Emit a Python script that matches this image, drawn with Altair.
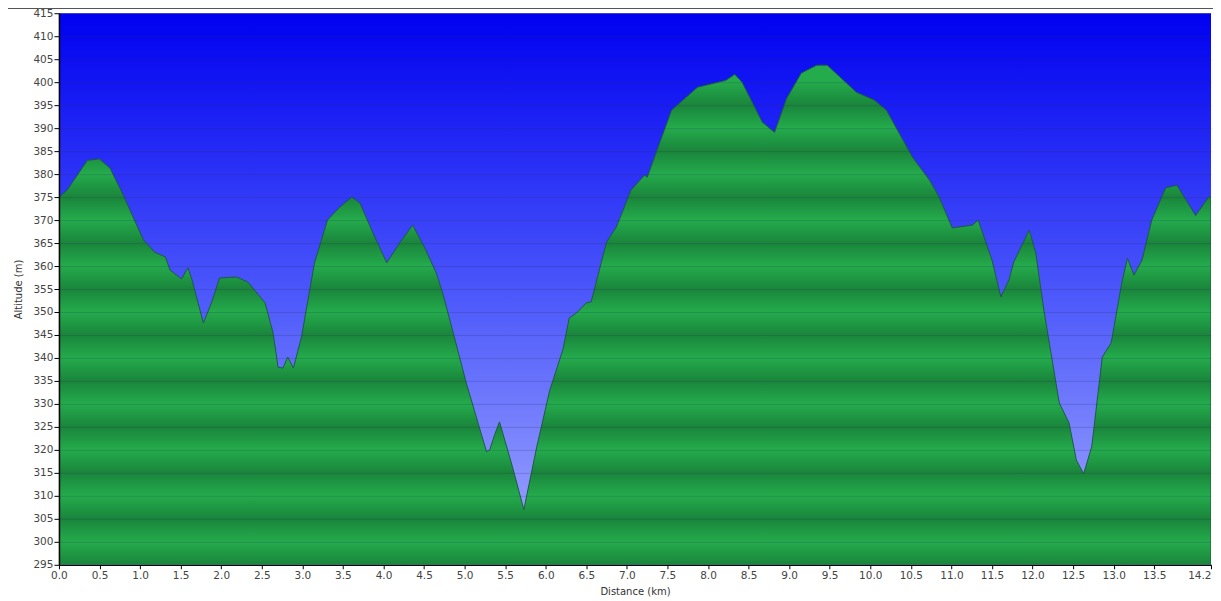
import altair as alt
import pandas as pd

dist_km = [0.0, 0.1, 0.35, 0.5, 0.63, 0.78, 1.04, 1.18, 1.31, 1.37, 1.51, 1.59, 1.64,
           1.78, 1.88, 1.98, 2.19, 2.33, 2.54, 2.64, 2.70, 2.76, 2.82, 2.89, 2.99, 3.15,
           3.31, 3.46, 3.61, 3.71, 3.87, 4.04, 4.20, 4.36, 4.51, 4.65, 4.73, 4.85, 5.02,
           5.27, 5.31, 5.37, 5.43, 5.59, 5.73, 5.89, 6.05, 6.21, 6.29, 6.38, 6.50, 6.56,
           6.63, 6.75, 6.87, 6.95, 7.05, 7.22, 7.25, 7.55, 7.87, 8.22, 8.33, 8.42, 8.67,
           8.82, 8.97, 9.15, 9.34, 9.47, 9.83, 10.05, 10.20, 10.52, 10.73, 10.85, 11.01,
           11.26, 11.33, 11.50, 11.61, 11.71, 11.77, 11.96, 12.04, 12.14, 12.33, 12.45,
           12.54, 12.63, 12.73, 12.86, 12.97, 13.10, 13.17, 13.25, 13.35, 13.47, 13.64,
           13.78, 14.01, 14.17, 14.2]
alt_m = [375.0, 376.5, 383.0, 383.3, 381.3, 375.9, 365.7, 363.0, 362.0, 359.1, 357.2, 359.6, 357.0,
         347.6, 352.0, 357.4, 357.6, 356.5, 352.0, 345.4, 338.0, 337.8, 340.2, 337.8, 344.6, 360.7,
         370.0, 372.8, 375.0, 373.7, 367.2, 360.7, 365.0, 368.9, 363.9, 358.5, 354.1, 346.1, 334.6,
         319.6, 320.0, 323.3, 326.1, 316.3, 307.0, 320.7, 333.0, 341.7, 348.7, 349.8, 352.0, 352.2,
         357.0, 365.2, 368.5, 372.0, 376.5, 379.8, 379.3, 393.9, 398.9, 400.4, 401.7, 400.0, 391.3,
         389.1, 396.5, 402.0, 403.7, 403.7, 397.8, 396.1, 393.9, 383.7, 378.7, 375.0, 368.3,
         368.9, 370.0, 361.3, 353.3, 357.0, 360.9, 367.8, 362.8, 350.4, 330.2, 325.9,
         317.8, 314.8, 320.7, 340.2, 343.3, 356.3, 361.7, 358.0, 361.3, 370.0, 377.0,
         377.6, 371.0, 375.0, 375.0]
x_ticks = [0.0, 0.5, 1.0, 1.5, 2.0, 2.5, 3.0, 3.5, 4.0, 4.5, 5.0, 5.5, 6.0, 6.5, 7.0,
           7.5, 8.0, 8.5, 9.0, 9.5, 10.0, 10.5, 11.0, 11.5, 12.0, 12.5, 13.0, 13.5, 14.2]
y_ticks = list(range(295, 420, 5))
y_min, y_max = 295, 415
x_max = 14.2

W, H = 1153, 552
FONT = "DejaVu Sans"

df = pd.DataFrame({"d": dist_km, "a": alt_m})
one = pd.DataFrame({"z": [0]})

# ---- striped green gradient (darker band every 10 m, centred on 305, 315, ...) ----
LIGHT, DARK = "#24ab4c", "#1a853b"
amax = max(alt_m)
levels = sorted({y_min + 5 * i for i in range(int((amax - y_min) / 5) + 1)}, reverse=True)
stops = [alt.GradientStop(offset=0, color=LIGHT)]
for lv in levels:
    off = (amax - lv) / (amax - y_min)
    col = DARK if (lv - 305) % 10 == 0 else LIGHT
    stops.append(alt.GradientStop(offset=min(max(off, 0), 1), color=col))
green = alt.LinearGradient(gradient="linear", stops=stops, x1=0, x2=0, y1=0, y2=1)

blue = alt.LinearGradient(
    gradient="linear",
    stops=[alt.GradientStop(offset=0, color="#0000f0"),
           alt.GradientStop(offset=0.5, color="#4a56fa"),
           alt.GradientStop(offset=1, color="#a4acff")],
    x1=0, x2=0, y1=0, y2=1)

bg = alt.Chart(one).mark_rect(fill=blue).encode(
    x=alt.value(0), x2=alt.value(W), y=alt.value(0), y2=alt.value(H))

xscale = alt.Scale(domain=[0, x_max], nice=False, zero=False)
yscale = alt.Scale(domain=[y_min, y_max], nice=False, zero=False)

area = alt.Chart(df).mark_area(fill=green, stroke="#1d5a44", strokeWidth=1,
                               clip=True).encode(
    x=alt.X("d:Q", scale=xscale,
            axis=alt.Axis(values=x_ticks, format=".1f", title="Distance  (km)",
                          grid=False, tickSize=4, labelPadding=2, titlePadding=5,
                          labelFlush=False,
                          labelAlign=alt.expr("datum.value > 14 ? 'right' : 'center'"))),
    y=alt.Y("a:Q", scale=yscale,
            axis=alt.Axis(values=y_ticks, format="d", title="Altitude (m)",
                          grid=True, gridColor="#303060", gridOpacity=0.22,
                          tickSize=5, labelPadding=1, titlePadding=9, zindex=1)),
    y2=alt.datum(y_min),
)

left_border = alt.Chart(one).mark_rule(color="#aaaaaa", strokeWidth=2, clip=False).encode(
    x=alt.value(-52), y=alt.value(-5), y2=alt.value(H + 40))
top_border = alt.Chart(one).mark_rule(color="#555555", strokeWidth=1.5, clip=False).encode(
    x=alt.value(-52), x2=alt.value(W + 10), y=alt.value(-5))

chart = alt.layer(bg, area, left_border, top_border).properties(
    width=W, height=H,
    autosize=alt.AutoSizeParams(type="none"),
    padding={"left": 51, "top": 5, "right": 2, "bottom": 36},
).configure_view(stroke=None).configure_axis(
    labelFont=FONT, labelFontSize=10.5, labelColor="#444444",
    titleFont=FONT, titleFontSize=10, titleFontWeight="normal", titleColor="#333333",
    domainColor="#000000", domainWidth=1.5, tickColor="#000000",
)

chart.save("out.html", embed_options={"renderer": "svg", "actions": False})
